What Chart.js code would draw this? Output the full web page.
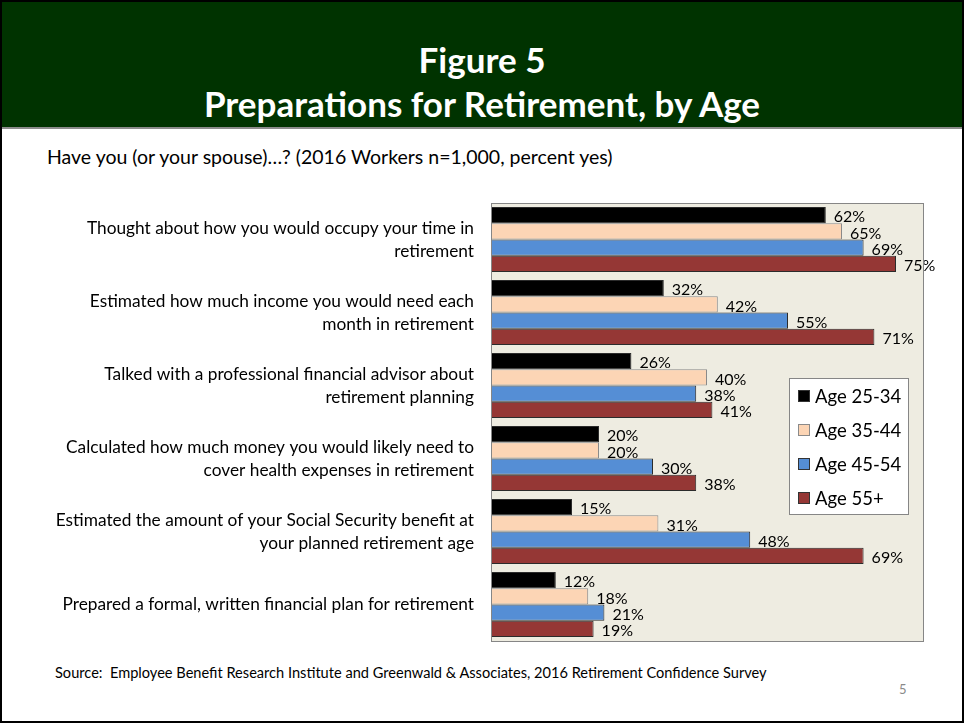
<!DOCTYPE html>
<html lang="en">
<head>
  <meta charset="UTF-8" />
  <script src="https://cdn.jsdelivr.net/npm/chart.js"></script>
  <title>Preparations for Retirement, by Age</title>
  <style>
    html, body { margin: 0; padding: 0; background: #fff; }
    body { font-family: Lato, "Open Sans", sans-serif; }
    #slide {
      position: relative; width: 964px; height: 723px;
      box-sizing: border-box; border: 2px solid #000; overflow: hidden;
    }
    #header {
      position: absolute; left: 0; top: 0; right: 0; height: 127px;
      background: #003300; border-bottom: 2px solid #8c8c8c;
      color: #fff; text-align: center; font-weight: bold; font-size: 35px;
      line-height: 44px; padding-top: 35px; box-sizing: border-box;
    }
    #question { position: absolute; left: 45px; top: 143px; font-size: 19.5px; color: #000; }
    #wrap { position: absolute; left: 0; top: 188px; width: 960px; height: 470px; }
    #source { position: absolute; left: 53px; top: 662px; font-size: 14.6px; color: #000; }
    #page { position: absolute; left: 897px; top: 679px; font-size: 13px; color: #8a8a8a; }
  </style>
</head>
<body>
  <div id="slide">
    <div id="header">Figure 5<br>Preparations for Retirement, by Age</div>
    <div id="question">Have you (or your spouse)…? (2016 Workers n=1,000, percent yes)</div>
    <div id="wrap"><canvas id="grafico"></canvas></div>
    <div id="source">Source:&nbsp; Employee Benefit Research Institute and Greenwald &amp; Associates, 2016 Retirement Confidence Survey</div>
    <div id="page">5</div>
  </div>
  <script>
    // preguntas (ejes) y porcentajes por grupo de edad
    const preguntas = [
      ['Thought about how you would occupy your time in', 'retirement'],
      ['Estimated how much income you would need each', 'month in retirement'],
      ['Talked with a professional financial advisor about', 'retirement planning'],
      ['Calculated how much money you would likely need to', 'cover health expenses in retirement'],
      ['Estimated the amount of your Social Security benefit at', 'your planned retirement age'],
      'Prepared a formal, written financial plan for retirement'
    ];
    const edades = ['Age 25-34', 'Age 35-44', 'Age 45-54', 'Age 55+'];
    const age2534 = [62, 32, 26, 20, 15, 12];
    const age3544 = [65, 42, 40, 20, 31, 18];
    const age4554 = [69, 55, 38, 30, 48, 21];
    const age55 = [75, 71, 41, 38, 69, 19];

    const colores = ['#000000', '#FCD5B5', '#558ED5', '#953735'];
    const FUENTE = 'Lato, "Open Sans", sans-serif';

    // fondo y marco del area de trazado
    const fondoPlugin = {
      id: 'fondo',
      beforeDraw(chart) {
        const { ctx, chartArea: a } = chart;
        ctx.save();
        ctx.fillStyle = '#EEECE1';
        ctx.fillRect(a.left, a.top, a.right - a.left, a.bottom - a.top);
        ctx.restore();
      },
      afterDraw(chart) {
        const { ctx, chartArea: a } = chart;
        ctx.save();
        ctx.strokeStyle = '#868686';
        ctx.lineWidth = 1;
        ctx.strokeRect(Math.round(a.left) + 0.5, Math.round(a.top) + 0.5,
          Math.round(a.right - a.left), Math.round(a.bottom - a.top));
        ctx.restore();
      }
    };

    // etiquetas de porcentaje al final de cada barra
    const etiquetasPlugin = {
      id: 'etiquetas',
      afterDatasetsDraw(chart) {
        const ctx = chart.ctx;
        ctx.save();
        ctx.font = '16px ' + FUENTE;
        ctx.fillStyle = '#000';
        ctx.textAlign = 'left';
        ctx.textBaseline = 'middle';
        chart.data.datasets.forEach((ds, i) => {
          chart.getDatasetMeta(i).data.forEach((bar, j) => {
            ctx.fillText(ds.data[j] + '%', bar.x + 8, bar.y + 2);
          });
        });
        ctx.restore();
      }
    };

    // leyenda dentro del area de trazado
    const leyendaPlugin = {
      id: 'leyendaInterna',
      afterDraw(chart) {
        const { ctx, chartArea: a } = chart;
        const x = Math.round(a.right) - 134, y = Math.round(a.top) + 175;
        ctx.save();
        ctx.fillStyle = '#fff';
        ctx.fillRect(x, y, 119, 136);
        ctx.strokeStyle = '#868686';
        ctx.lineWidth = 1;
        ctx.strokeRect(x + 0.5, y + 0.5, 119, 136);
        ctx.font = '18.5px ' + FUENTE;
        ctx.textBaseline = 'middle';
        chart.data.datasets.forEach((ds, i) => {
          const cy = y + 18 + i * 34;
          ctx.fillStyle = ds.backgroundColor;
          ctx.fillRect(x + 9, cy - 6, 12, 12);
          ctx.strokeStyle = i === 1 ? '#8a8a8a' : '#333';
          ctx.strokeRect(x + 9.5, cy - 5.5, 11, 11);
          ctx.fillStyle = '#000';
          ctx.fillText(ds.label, x + 26, cy + 1);
        });
        ctx.restore();
      }
    };

    const series = [age2534, age3544, age4554, age55];
    const ctx = document.getElementById('grafico').getContext('2d');
    new Chart(ctx, {
      type: 'bar',
      data: {
        labels: preguntas,
        datasets: series.map((valores, i) => ({
          label: edades[i],
          data: valores,
          backgroundColor: colores[i],
          borderColor: i === 1 ? '#8a8a8a' : '#2b2b2b',
          borderWidth: 1,
          barPercentage: 1,
          categoryPercentage: 0.89
        }))
      },
      options: {
        indexAxis: 'y',
        responsive: true,
        maintainAspectRatio: false,
        animation: false,
        layout: { padding: { left: 39, right: 39, top: 13, bottom: 19 } },
        plugins: { legend: { display: false }, tooltip: { enabled: false } },
        scales: {
          x: { display: false, min: 0, max: 80 },
          y: {
            grid: { display: false, drawTicks: false },
            border: { display: false },
            afterFit(scale) {
              scale.width = 450;
              scale.paddingTop = 0;
              scale.paddingBottom = 0;
            },
            ticks: {
              color: '#000',
              padding: 17,
              font: { family: FUENTE, size: 17.3, lineHeight: 1.33 }
            }
          }
        }
      },
      plugins: [fondoPlugin, etiquetasPlugin, leyendaPlugin]
    });
  </script>
</body>
</html>
